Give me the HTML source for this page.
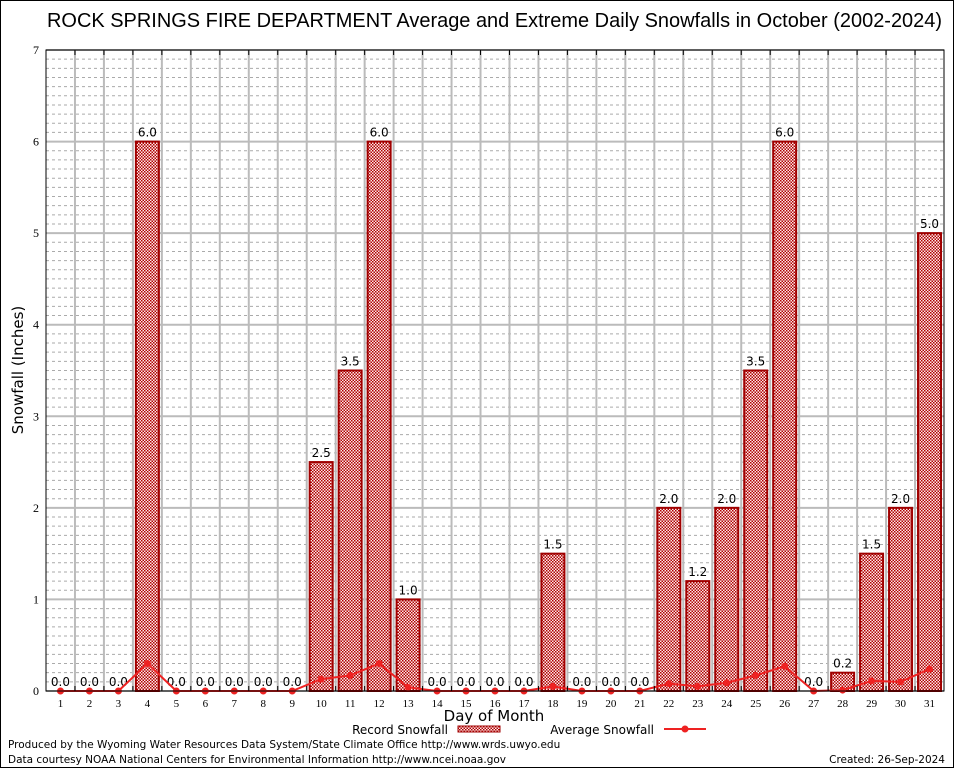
<!DOCTYPE html>
<html><head><meta charset="utf-8"><style>
body{margin:0;background:#fff;}
svg{display:block;font-family:"DejaVu Sans","Liberation Sans",sans-serif;}
</style></head><body>
<svg id="chart" width="954" height="768" viewBox="0 0 954 768">
<defs>
<pattern id="chk" width="3" height="3" patternUnits="userSpaceOnUse">
<rect width="3" height="3" fill="#fbeaea"/><rect width="1.5" height="1.5" fill="#b00000"/><rect x="1.5" y="1.5" width="1.5" height="1.5" fill="#b00000"/>
</pattern>
</defs>
<rect x="0.5" y="0.5" width="953" height="767" fill="#fff" stroke="#000"/>
<text x="47" y="27" font-size="20" textLength="895" lengthAdjust="spacingAndGlyphs" font-family="Liberation Sans, sans-serif">ROCK SPRINGS FIRE DEPARTMENT Average and Extreme Daily Snowfalls in October (2002-2024)</text>
<g id="grid"></g>
<g id="bars"></g>
<g id="avg"></g>
<g id="axes"></g>
<text x="23" y="370" text-anchor="middle" font-size="15" transform="rotate(-90 23 370)">Snowfall (Inches)</text>
<text x="494" y="721" text-anchor="middle" font-size="15">Day of Month</text>
<g>
<text x="448" y="734" text-anchor="end" font-size="12">Record Snowfall</text>
<rect x="458" y="726" width="42" height="6" fill="url(#chk)" stroke="#a00000"/>
</g>
<g>
<text x="654" y="734" text-anchor="end" font-size="12">Average Snowfall</text>
<line x1="664" y1="729" x2="706" y2="729" stroke="#ee2222" stroke-width="2"/>
<circle cx="685" cy="729" r="3.5" fill="#ee2222"/>
</g>
<text x="8" y="748" font-size="10.5">Produced by the Wyoming Water Resources Data System/State Climate Office http://www.wrds.uwyo.edu</text>
<text x="8" y="763" font-size="10.5">Data courtesy NOAA National Centers for Environmental Information http://www.ncei.noaa.gov</text>
<text x="945" y="763" text-anchor="end" font-size="10.5">Created: 26-Sep-2024</text>
</svg>
<script>
const days=[1,2,3,4,5,6,7,8,9,10,11,12,13,14,15,16,17,18,19,20,21,22,23,24,25,26,27,28,29,30,31];
const recordValues=[0,0,0,6.0,0,0,0,0,0,2.5,3.5,6.0,1.0,0,0,0,0,1.5,0,0,0,2.0,1.2,2.0,3.5,6.0,0,0.2,1.5,2.0,5.0];
const avgValues=[0,0,0,0.3,0,0,0,0,0,0.13,0.17,0.3,0.04,0,0,0,0,0.05,0,0,0,0.08,0.05,0.09,0.17,0.27,0,0.01,0.11,0.1,0.24];
const yTicks=[0,1,2,3,4,5,6,7];
const NS="http://www.w3.org/2000/svg";
const L=46,R=944,T=50,B=691,yMax=7;
const step=(R-L)/31;
const xs=d=>L+step*(d-0.5);
const ys=v=>B-(v/yMax)*(B-T);
function mk(tag,attrs,parent){const e=document.createElementNS(NS,tag);for(const k in attrs)e.setAttribute(k,attrs[k]);parent.appendChild(e);return e;}
const grid=document.getElementById('grid'),bars=document.getElementById('bars'),avg=document.getElementById('avg'),axes=document.getElementById('axes');
for(let i=1;i<=70;i++){if(i%10===0)continue;const y=ys(i/10);
const g=mk('line',{x1:L,x2:R,y1:y,y2:y,stroke:'#aaa','stroke-dasharray':'3,3','stroke-width':1},grid);

}
yTicks.forEach(t=>{const y=ys(t);
const g=mk('line',{x1:L,x2:R,y1:y,y2:y,stroke:'#bbb','stroke-width':2},grid);


const tx=mk('text',{x:L-7,y:y+4,'text-anchor':'end','font-size':12,'font-family':'Liberation Serif, serif'},axes);tx.textContent=t;

});
for(let i=1;i<31;i++){const x=L+step*i;
const g=mk('line',{x1:x,x2:x,y1:T,y2:B,stroke:'#bbb','stroke-width':2},grid);


mk('line',{x1:x,x2:x,y1:T,y2:T+5,stroke:'#000'},axes);mk('line',{x1:x,x2:x,y1:B,y2:B-5,stroke:'#000'},axes);}
days.forEach((d,i)=>{const v=recordValues[i],x=xs(d);
if(v>0){const r=mk('rect',{x:x-11.5,y:ys(v),width:23,height:B-ys(v),fill:'url(#chk)',stroke:'#a00000','stroke-width':2},bars);

}
const lb=mk('text',{x:x,y:ys(v)-5,'text-anchor':'middle','font-size':12},bars);lb.textContent=v.toFixed(1);


const xl=mk('text',{x:x,y:B+16,'text-anchor':'middle','font-size':11,'font-family':'Liberation Serif, serif'},axes);xl.textContent=d;

});
const pts=days.map((d,i)=>xs(d)+','+ys(avgValues[i])).join(' ');
const pl=mk('polyline',{points:pts,fill:'none',stroke:'#ee2222','stroke-width':2},avg);


days.forEach((d,i)=>{const c=mk('circle',{cx:xs(d),cy:ys(avgValues[i]),r:3.5,fill:'#ee2222'},avg);

});
const fr=mk('rect',{x:L,y:T,width:R-L,height:B-T,fill:'none',stroke:'#000','stroke-width':1},axes);


</script>
</body></html>
